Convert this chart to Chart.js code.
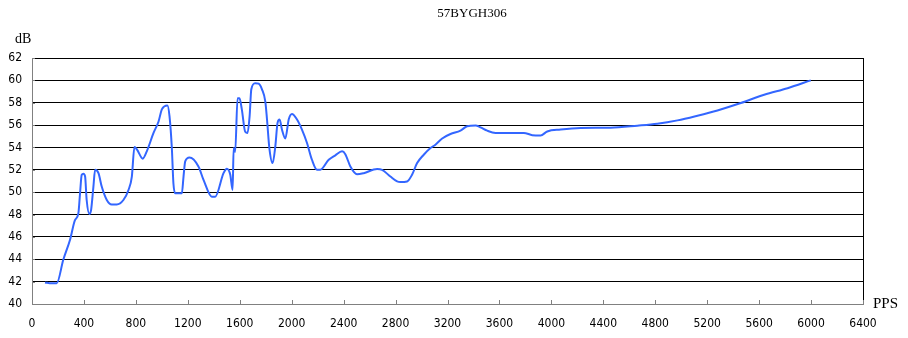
<!DOCTYPE html>
<html>
<head>
<meta charset="utf-8">
<script src="https://cdn.jsdelivr.net/npm/chart.js@4/dist/chart.umd.min.js"></script>
<style>
html,body{margin:0;padding:0;background:#fff;}
canvas{display:block;}
</style>
</head>
<body>
<canvas id="c" width="908" height="338"></canvas>
<script>
const chartTitle = "57BYGH306";
const yAxisTitle = "dB";
const xAxisTitle = "PPS";
const xTicks = [0,400,800,1200,1600,2000,2400,2800,3200,3600,4000,4400,4800,5200,5600,6000,6400];
const yTicks = [40,42,44,46,48,50,52,54,56,58,60,62];

const ppsValues = [100,150,190,241,293,331,357,370,383,396,409,421,442,455,473,486,512,537,576,614,653,704,743,769,789,809,853,884,936,974,1000,1043,1059,1077,1089,1103,1154,1167,1180,1213,1282,1321,1385,1411,1475,1501,1527,1545,1553,1565,1583,1598,1616,1642,1660,1676,1689,1719,1745,1771,1797,1810,1828,1853,1874,1891,1907,1925,1951,1977,2002,2041,2079,2118,2156,2195,2220,2285,2336,2388,2413,2452,2503,2555,2658,2696,2760,2812,2837,2889,2927,2966,3017,3069,3107,3159,3223,3300,3351,3416,3454,3506,3570,3788,3853,3917,3968,4071,4225,4456,4662,4816,4971,5125,5279,5459,5639,5819,5998];
const dbValues = [41.93,41.85,41.85,43.96,45.75,47.5,48.1,49.9,51.56,51.65,51.4,49.3,48.05,48.4,50.5,52.0,51.7,50.5,49.3,48.9,48.9,49.3,50.2,51.4,54.04,53.8,53.0,53.65,55.3,56.3,57.4,57.76,56.8,53.95,50.8,49.9,49.9,51.4,52.75,53.1,52.3,51.1,49.6,49.6,51.7,52.1,51.56,50.2,53.95,53.6,58.4,58.4,57.4,55.4,55.3,56.8,59.2,59.75,59.7,59.2,58.1,56.5,53.95,52.6,54.1,56.2,56.5,55.6,54.8,56.5,57.0,56.5,55.6,54.4,52.9,52.0,52.0,52.9,53.3,53.65,53.4,52.3,51.6,51.7,52.07,52.0,51.4,50.96,50.9,50.96,51.56,52.6,53.35,53.95,54.25,54.8,55.2,55.5,55.9,55.97,55.8,55.5,55.3,55.3,55.1,55.07,55.43,55.6,55.74,55.77,55.95,56.12,56.42,56.84,57.31,57.97,58.72,59.3,60.0];

const points = ppsValues.map((x,i)=>({x:x, y:dbValues[i]}));
const tickFont = {family:"'Liberation Sans Narrow','DejaVu Sans Condensed','Liberation Sans',sans-serif", size:12};

const decor = {
  id:'decor',
  afterDatasetsDraw(chart){
    const ctx = chart.ctx, a = chart.chartArea;
    const xs = chart.scales.x, ys = chart.scales.y;
    ctx.save();
    ctx.strokeStyle = '#000'; ctx.lineWidth = 1;
    ctx.beginPath(); ctx.moveTo(Math.round(a.right)+0.5, a.top); ctx.lineTo(Math.round(a.right)+0.5, a.bottom); ctx.stroke();
    ctx.strokeStyle = '#808080';
    xTicks.forEach(v=>{
      const px = Math.round(xs.getPixelForValue(v))+0.5;
      ctx.beginPath(); ctx.moveTo(px, a.bottom); ctx.lineTo(px, a.bottom-4); ctx.stroke();
    });
    yTicks.forEach(v=>{
      const py = Math.round(ys.getPixelForValue(v))+0.5;
      ctx.beginPath(); ctx.moveTo(a.left, py); ctx.lineTo(a.left+3, py); ctx.stroke();
    });
    ctx.fillStyle = '#000';
    ctx.textBaseline = 'middle';
    ctx.textAlign = 'center';
    ctx.font = "13px 'Liberation Serif', serif";
    ctx.fillText(chartTitle, 472, 14);
    ctx.textAlign = 'left';
    ctx.font = "14px 'Liberation Serif', serif";
    ctx.fillText(yAxisTitle, 15, 39);
    ctx.font = "15px 'Liberation Serif', serif";
    ctx.fillText(xAxisTitle, 873, 304);
    ctx.restore();
  }
};

new Chart(document.getElementById('c'), {
  type:'line',
  data:{datasets:[{
    data:points,
    borderColor:'#3366ff',
    borderWidth:2,
    pointRadius:0,
    fill:false,
    cubicInterpolationMode:'monotone'
  }]},
  options:{
    responsive:false,
    devicePixelRatio:1,
    animation:false,
    layout:{padding:{top:58,right:45,left:0,bottom:0}},
    plugins:{legend:{display:false},title:{display:false},tooltip:{enabled:false}},
    scales:{
      x:{
        type:'linear', min:0, max:6400,
        afterBuildTicks(s){ s.ticks = xTicks.map(v=>({value:v})); },
        afterFit(s){ s.height = 34; },
        grid:{display:true, drawOnChartArea:false, drawTicks:false},
        border:{color:'#808080', width:1},
        ticks:{padding:13, color:'#000', font:tickFont, maxRotation:0, autoSkip:false, callback:(v)=>String(v)}
      },
      y:{
        min:40, max:62,
        afterBuildTicks(s){ s.ticks = yTicks.map(v=>({value:v})); },
        afterFit(s){ s.width = 32; },
        grid:{drawTicks:false, color:(c)=> (c.tick && c.tick.value===40) ? 'rgba(0,0,0,0)' : '#000', lineWidth:1},
        border:{color:'#808080', width:1},
        ticks:{padding:10, color:'#000', font:tickFont, callback:(v)=>String(v)}
      }
    }
  },
  plugins:[decor]
});
</script>
</body>
</html>
